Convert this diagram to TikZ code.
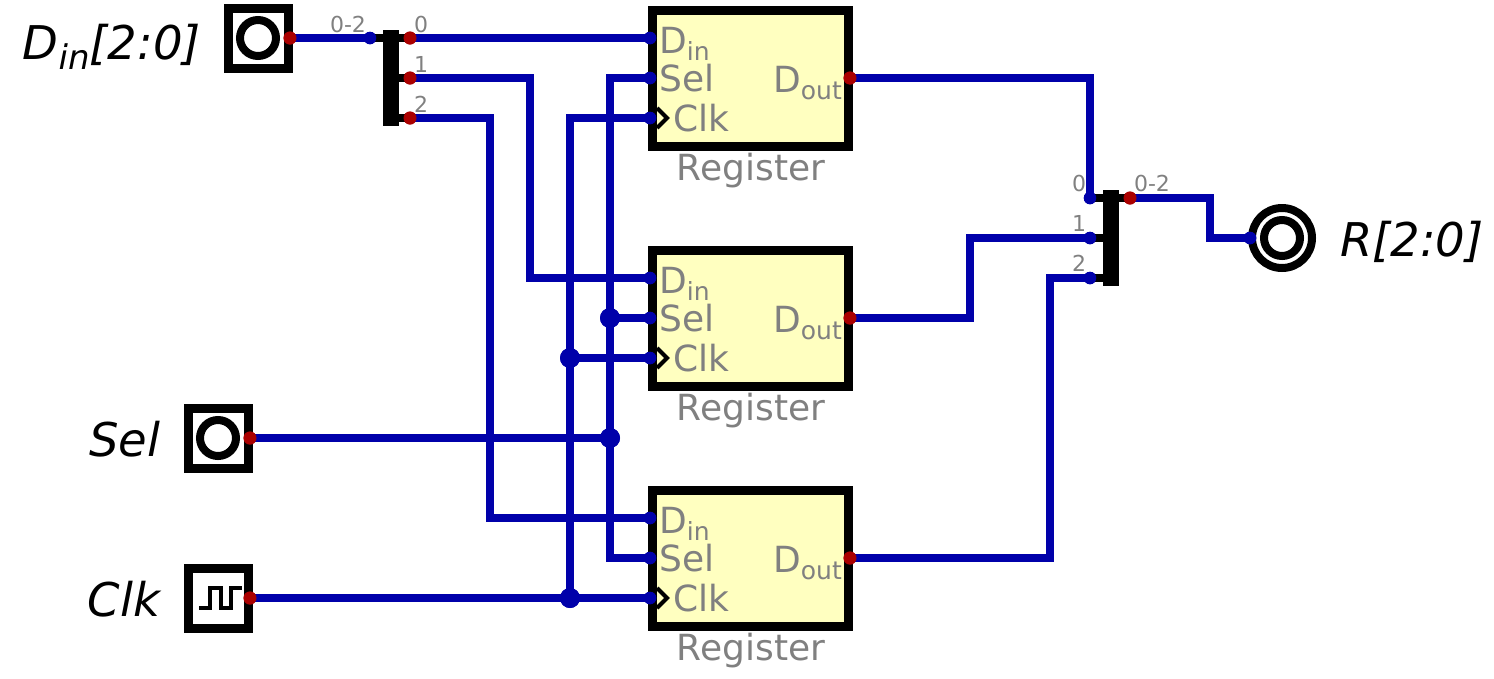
\documentclass[tikz,border=0pt]{standalone}
\usepackage{fontspec}
\setmainfont{DejaVu Sans}
\definecolor{wirec}{HTML}{0000AA}
\definecolor{redc}{HTML}{AA0000}
\definecolor{regfill}{HTML}{FFFFC0}
\definecolor{txt}{HTML}{808080}
\newcommand{\fs}[1]{\fontsize{#1}{#1}\selectfont}
\newcommand{\subt}[1]{\raisebox{-7pt}{\fs{25}#1}}
\tikzset{
 wire/.style={draw=wirec,line width=8.8pt,line join=miter},
 stub/.style={draw=black,line width=8.8pt},
 bar/.style={fill=black,draw=none,minimum width=16pt,inner sep=0pt,outer sep=0pt},
 indot/.style={circle,fill=wirec,inner sep=0pt,outer sep=0pt,minimum size=12.5pt},
 outdot/.style={circle,fill=redc,inner sep=0pt,outer sep=0pt,minimum size=13pt},
 junction/.style={circle,fill=wirec,inner sep=0pt,outer sep=0pt,minimum size=20pt},
 regbox/.style={rectangle,draw=black,fill=regfill,line width=9pt,outer sep=0pt,minimum width=196pt,minimum height=136pt,inner sep=0pt},
 pinbox/.style={rectangle,draw=black,fill=white,line width=9pt,outer sep=0pt,minimum width=60pt,minimum height=60pt,inner sep=0pt},
 ring/.style={circle,draw=black,fill=white,line width=8pt,outer sep=0pt,inner sep=0pt},
 lab/.style={text=txt,inner sep=0pt,font=\fs{36}},
 small/.style={text=txt,inner sep=0pt,font=\fs{22}},
 pinlab/.style={text=black,inner sep=0pt,font=\fs{46.5}\itshape},
 clkmark/.style={draw=black,line width=4.2pt,line join=miter},
}
\begin{document}
\begin{tikzpicture}[x=1pt,y=-1pt]
\useasboundingbox (0,0) rectangle (1494,678);
% registers
\foreach \n/\dy in {a/0,b/240,c/480}{
  \node[regbox] (reg\n) at (750.2,78.3+\dy) {};
  \node[lab,anchor=base west] (din\n) at (659,53+\dy) {D\subt{in}};
  \node[lab,anchor=base west] (sel\n) at (659,91+\dy) {Sel};
  \node[lab,anchor=base west] (clk\n) at (673,131+\dy) {Clk};
  \node[lab,anchor=base east] (dout\n) at (842,92.5+\dy) {D\subt{out}};
  \node[lab,anchor=base] (name\n) at (751,180+\dy) {Register};
  \coordinate (ct\n) at (657,108+\dy);
  \coordinate (cm\n) at (667,118+\dy);
  \coordinate (cb\n) at (657,128+\dy);
  \draw[clkmark] (ct\n) -- (cm\n) -- (cb\n);
  \node[indot] (pd\n) at (650,38+\dy) {};
  \node[indot] (ps\n) at (650,78+\dy) {};
  \node[indot] (pc\n) at (650,118+\dy) {};
  \node[outdot] (po\n) at (850,78+\dy) {};
}
% input pins
\node[pinbox] (boxD) at (258.3,38.3) {};
\node[ring,minimum size=36pt] (ringD) at (258,38) {};
\node[pinbox] (boxS) at (218.3,438.3) {};
\node[ring,minimum size=36pt] (ringS) at (218,438) {};
\node[pinbox] (boxC) at (218.3,598.3) {};
\coordinate (w1) at (199,608); \coordinate (w2) at (210,608); \coordinate (w3) at (210,588);
\coordinate (w4) at (221,588); \coordinate (w5) at (221,608); \coordinate (w6) at (231,608);
\coordinate (w7) at (231,588); \coordinate (w8) at (242,588);
\draw[clkmark] (w1)--(w2)--(w3)--(w4)--(w5)--(w6)--(w7)--(w8);
% output pin
\node[ring,minimum size=60pt] (ringR) at (1282,238) {};
\node[ring,minimum size=36pt] (ringRi) at (1282,238) {};
% splitters
\node[indot] (s1in) at (370,38) {};
\node[outdot] (s1o0) at (410,38) {};
\node[outdot] (s1o1) at (410,78) {};
\node[outdot] (s1o2) at (410,118) {};
\node[bar,minimum height=96pt] (s1bar) at (390.5,78) {};
\draw[stub] (s1in.center) -- (s1o0.center);
\draw[stub] (s1bar.center |- s1o1) -- (s1o1.center);
\draw[stub] (s1bar.center |- s1o2) -- (s1o2.center);
\node[indot] (s2i0) at (1090,198) {};
\node[indot] (s2i1) at (1090,238) {};
\node[indot] (s2i2) at (1090,278) {};
\node[outdot] (s2o) at (1130,198) {};
\node[bar,minimum height=96pt] (s2bar) at (1110.5,238) {};
\draw[stub] (s2i0.center) -- (s2o.center);
\draw[stub] (s2i1.center) -- (s2bar.center |- s2i1);
\draw[stub] (s2i2.center) -- (s2bar.center |- s2i2);
% pin dots
\node[outdot] (oD) at (290,38) {};
\node[outdot] (oS) at (250,438) {};
\node[outdot] (oC) at (250,598) {};
\node[indot] (iR) at (1250,238) {};
% junctions
\node[junction] (jS1) at (610,318) {};
\node[junction] (jS2) at (610,438) {};
\node[junction] (jC1) at (570,358) {};
\node[junction] (jC2) at (570,598) {};
% wires
\draw[wire] (oD.center) -- (s1in.center);
\draw[wire] (s1o0.center) -- (pda.center);
\coordinate (b1) at (530,78); \coordinate (b2) at (530,278);
\draw[wire] (s1o1.center) -- (b1) -- (b2) -- (pdb.center);
\coordinate (b3) at (490,118); \coordinate (b4) at (490,518);
\draw[wire] (s1o2.center) -- (b3) -- (b4) -- (pdc.center);
\draw[wire] (oS.center) -- (jS2.center);
\coordinate (b5) at (610,78); \coordinate (b6) at (610,558);
\draw[wire] (psa.center) -- (b5) -- (b6) -- (psc.center);
\draw[wire] (jS1.center) -- (psb.center);
\draw[wire] (oC.center) -- (pcc.center);
\coordinate (b7) at (570,118);
\draw[wire] (pca.center) -- (b7) -- (jC2.center);
\draw[wire] (jC1.center) -- (pcb.center);
\coordinate (b8) at (1090,78);
\draw[wire] (poa.center) -- (b8) -- (s2i0.center);
\coordinate (b9) at (970,318); \coordinate (b10) at (970,238);
\draw[wire] (pob.center) -- (b9) -- (b10) -- (s2i1.center);
\coordinate (b11) at (1050,558); \coordinate (b12) at (1050,278);
\draw[wire] (poc.center) -- (b11) -- (b12) -- (s2i2.center);
\coordinate (b13) at (1210,198); \coordinate (b14) at (1210,238);
\draw[wire] (s2o.center) -- (b13) -- (b14) -- (iR.center);
% redraw dots on top
\foreach \nm/\st in {oD/outdot,oS/outdot,oC/outdot,s1o0/outdot,s1o1/outdot,s1o2/outdot,s2o/outdot,poa/outdot,pob/outdot,poc/outdot,s1in/indot,s2i0/indot,s2i1/indot,s2i2/indot,iR/indot,pda/indot,psa/indot,pca/indot,pdb/indot,psb/indot,pcb/indot,pdc/indot,psc/indot,pcc/indot,jS1/junction,jS2/junction,jC1/junction,jC2/junction}{
  \path (\nm.center) node[\st] {};
}
% small labels
\node[small,anchor=base] (l02a) at (348,32) {0-2};
\node[small,anchor=base] (l0a) at (421,32) {0};
\node[small,anchor=base] (l1a) at (421,72) {1};
\node[small,anchor=base] (l2a) at (421,112) {2};
\node[small,anchor=base] (l02b) at (1152,191) {0-2};
\node[small,anchor=base] (l0b) at (1079,191) {0};
\node[small,anchor=base] (l1b) at (1079,231) {1};
\node[small,anchor=base] (l2b) at (1079,271) {2};
% pin labels
\node[pinlab,anchor=base east] (tD) at (201,59) {D\raisebox{-10pt}{\fs{34}in}[2:0]};
\node[pinlab,anchor=base east] (tS) at (160.5,456) {Sel};
\node[pinlab,anchor=base east] (tC) at (160.5,616) {Clk};
\node[pinlab,anchor=base west] (tR) at (1340,256) {R[2:0]};
\end{tikzpicture}
\end{document}
